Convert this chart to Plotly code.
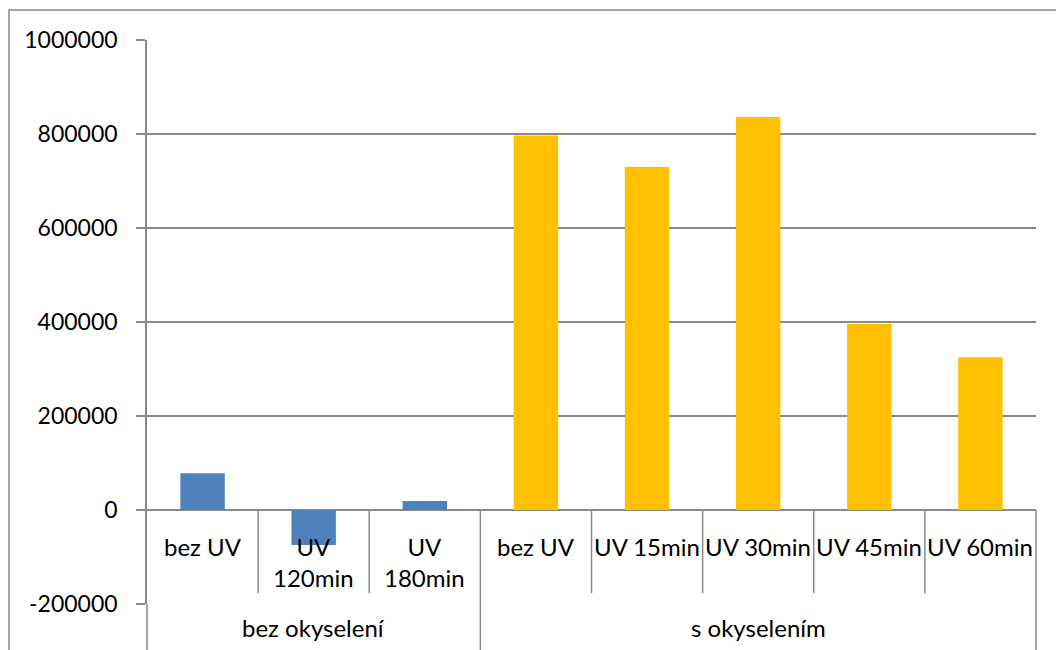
import plotly.graph_objects as go

# Measurement results per treatment
groups = ["bez okyselení", "s okyselením"]
group_sizes = [3, 5]
categories = ["bez UV", "UV<br>120min", "UV<br>180min",
              "bez UV", "UV 15min", "UV 30min", "UV 45min", "UV 60min"]
values_bez = [78000, -74500, 19000]
values_s = [797000, 730000, 836000, 396000, 325000]

y_ticks = [-200000, 0, 200000, 400000, 600000, 800000, 1000000]

BLUE = "#4F81BD"
GOLD = "#FFC000"
GRID = "#898989"
FONT = "Lato"
FS_TICK = 23
FS_CAT = 24

n = len(categories)
idx_bez = list(range(group_sizes[0]))
idx_s = list(range(group_sizes[0], n))

fig = go.Figure()
fig.add_trace(go.Bar(x=idx_bez, y=values_bez, width=0.4,
                     marker=dict(color=BLUE, line=dict(width=0)),
                     showlegend=False))
fig.add_trace(go.Bar(x=idx_s, y=values_s, width=0.4,
                     marker=dict(color=GOLD, line=dict(width=0)),
                     showlegend=False))

shapes = []
annotations = []

# inner category labels sitting under the zero line
for i, lab in enumerate(categories):
    annotations.append(dict(x=i, y=0, xref="x", yref="y", text=lab,
                            showarrow=False, yanchor="top", xanchor="center",
                            yshift=-20, font=dict(family=FONT, size=FS_CAT, color="black")))

# separators between inner categories (from zero line down into label row)
bounds = []
start = 0
for size in group_sizes:
    bounds.append((start, start + size - 1))
    start += size
group_edges = {-0.5} | {b[1] + 0.5 for b in bounds}
for k in range(n - 1):
    xb = k + 0.5
    if xb in group_edges:
        continue
    shapes.append(dict(type="line", xref="x", yref="y", x0=xb, x1=xb,
                       y0=0, y1=-177000, line=dict(color=GRID, width=1.5)))

# group separators run all the way to the bottom
y_min, y_max = y_ticks[0], y_ticks[-1]
zero_paper = (0 - y_min) / (y_max - y_min)
for xb in sorted(group_edges):
    px = (xb + 0.5) / n
    shapes.append(dict(type="line", xref="paper", yref="paper", x0=px, x1=px,
                       y0=zero_paper if xb > -0.5 else 0, y1=-0.1,
                       line=dict(color=GRID, width=1.5)))

# outer group labels
for g, (a, b) in zip(groups, bounds):
    annotations.append(dict(x=(a + b) / 2, y=-0.041, xref="x", yref="paper", text=g,
                            showarrow=False, yanchor="middle", xanchor="center",
                            font=dict(family=FONT, size=FS_CAT, color="black")))

# chart border
shapes.append(dict(type="rect", xref="paper", yref="paper",
                   x0=-0.1552, x1=1.2, y0=-0.3, y1=1.0532,
                   line=dict(color=GRID, width=1.5), fillcolor="rgba(0,0,0,0)",
                   layer="below"))

fig.update_layout(
    width=1056, height=650,
    margin=dict(l=147, r=20, t=40, b=46),
    paper_bgcolor="white", plot_bgcolor="white",
    barmode="overlay",
    font=dict(family=FONT, size=FS_TICK, color="black"),
    shapes=shapes, annotations=annotations,
    xaxis=dict(range=[-0.5, n - 0.5], showgrid=False, zeroline=False,
               showticklabels=False, ticks="", showline=False, fixedrange=True),
    yaxis=dict(range=[y_min, y_max], tickvals=y_ticks,
               ticktext=[str(v) for v in y_ticks],
               showgrid=True, gridcolor=GRID, gridwidth=1.5,
               zeroline=True, zerolinecolor=GRID, zerolinewidth=1.5,
               showline=True, linecolor=GRID, linewidth=1.5,
               ticks="outside", ticklen=9, tickcolor=GRID, tickwidth=1.5,
               ticklabelstandoff=14,
               tickfont=dict(family=FONT, size=FS_TICK, color="black")),
)

fig.write_html("out.html")
